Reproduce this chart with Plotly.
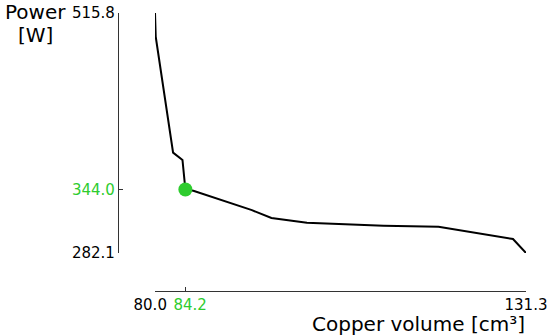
import plotly.graph_objects as go

copper_volume = [80.0, 80.1, 82.5, 83.8, 84.2, 85.3, 93.4, 96.1, 101.0, 111.6, 119.2, 129.5, 131.3]
power = [515.8, 492.7, 379.8, 372.7, 344.0, 342.7, 323.8, 316.2, 311.6, 308.7, 307.7, 295.7, 282.1]
opt_x = [84.2]
opt_y = [344.0]
x_ticks = [80.0, 84.2, 131.3]
y_ticks = [282.1, 344.0, 515.8]
GREEN = "#2ecc2e"

def lbl(v, green):
    s = f"{v:.1f}"
    return f"<span style='color:{GREEN}'>{s}</span>" if green else s

NB = "\u00a0\u00a0"
x_text = [NB + f"<span style='color:{GREEN}'>{v:.1f}</span>" if v in opt_x
          else (f"{v:.1f}" + NB if v == x_ticks[0] else f"{v:.1f}") for v in x_ticks]
y_text = [lbl(v, v in opt_y) for v in y_ticks]

fig = go.Figure()
fig.add_trace(go.Scatter(x=copper_volume, y=power, mode="lines",
                         line=dict(color="black", width=2), showlegend=False))
fig.add_trace(go.Scatter(x=opt_x, y=opt_y, mode="markers",
                         marker=dict(color=GREEN, size=14), showlegend=False))

font = dict(family="DejaVu Sans", size=15, color="black")
title_font = dict(family="DejaVu Sans", size=20, color="black")
fig.update_layout(
    width=550, height=336,
    margin=dict(l=118, r=24, t=13, b=45),
    paper_bgcolor="white", plot_bgcolor="white",
    font=font,
    xaxis=dict(range=[80.0, 131.3], domain=[0.0907, 1], anchor="free", position=0,
               automargin=False, tickangle=0,
               showgrid=False, zeroline=False, showline=True, linecolor="#333", linewidth=1.3,
               ticks="inside", ticklen=4, tickcolor="#333", tickwidth=1.3,
               tickvals=x_ticks, ticktext=x_text, tickfont=font),
    yaxis=dict(range=[282.1, 515.8], domain=[0.1367, 1], anchor="free", position=0,
               automargin=False,
               showgrid=False, zeroline=False, showline=True, linecolor="#333", linewidth=1.3,
               ticks="inside", ticklen=4, tickcolor="#333", tickwidth=1.3,
               tickvals=y_ticks, ticktext=y_text, tickfont=font),
    annotations=[
        dict(text="Power", xref="paper", yref="paper", x=-0.201, y=1,
             xanchor="center", yanchor="middle", yshift=1, showarrow=False,
             font=title_font),
        dict(text="[W]", xref="paper", yref="paper", x=-0.201, y=1,
             xanchor="center", yanchor="middle", yshift=-22, showarrow=False,
             font=title_font),
        dict(text="Copper volume [cm³]", xref="paper", yref="paper", x=1.003, y=0,
             xanchor="right", yanchor="middle", yshift=-33, showarrow=False,
             font=title_font),
    ],
)
fig.write_html("out.html", config={"displayModeBar": False},
               post_script="document.body.style.margin='0';document.body.style.padding='0';")
